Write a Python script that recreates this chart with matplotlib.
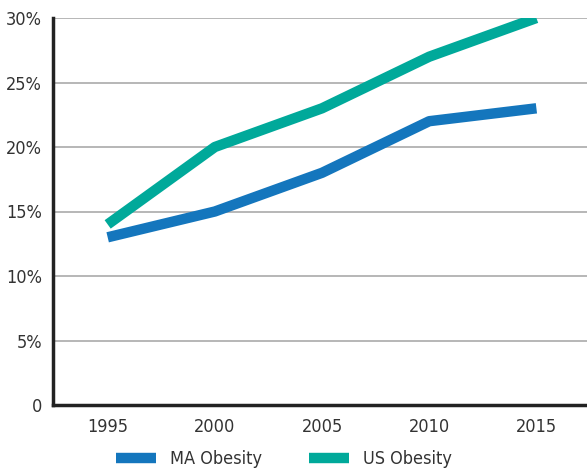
import matplotlib.pyplot as plt

years = ["1995", "2000", "2005", "2010", "2015"]
ma_obesity = [13, 15, 18, 22, 23]
us_obesity = [14, 20, 23, 27, 30]
y_ticks = [0, 5, 10, 15, 20, 25, 30]
y_labels = ["0", "5%", "10%", "15%", "20%", "25%", "30%"]

plt.rcParams['font.family'] = ['DejaVu Sans']
plt.rcParams['font.stretch'] = 'condensed'

fig = plt.figure(figsize=(5.87, 4.70), dpi=100)
ax = fig.add_axes([53 / 587, 65 / 470, 537 / 587, 387 / 470])

x = range(len(years))
ax.plot(x, ma_obesity, color="#1476bd", lw=7.5, solid_capstyle="butt", label="MA Obesity", zorder=3)
ax.plot(x, us_obesity, color="#00a99a", lw=7.5, solid_capstyle="butt", label="US Obesity", zorder=3)

ax.set_xlim(-0.51, 4.5)
ax.set_ylim(0, 30)
ax.set_xticks(list(x))
ax.set_xticklabels(years)
ax.set_yticks(y_ticks)
ax.set_yticklabels(y_labels)
ax.tick_params(axis="both", length=0, labelsize=13, colors="#333333")
ax.tick_params(axis="x", pad=9)
ax.tick_params(axis="y", pad=8)
ax.grid(axis="y", color="#aaaaaa", lw=1.2)
ax.set_axisbelow(True)

for s in ["top", "right"]:
    ax.spines[s].set_visible(False)
for s in ["left", "bottom"]:
    ax.spines[s].set_linewidth(2.5)
    ax.spines[s].set_color("#222222")
    ax.spines[s].set_zorder(4)

leg = fig.legend(*ax.get_legend_handles_labels(), loc="center", bbox_to_anchor=(284 / 587, 11 / 470),
                 ncol=2, frameon=False, fontsize=13, handlelength=2.2, columnspacing=2.6,
                 handletextpad=0.8, borderpad=0)
for t in leg.get_texts():
    t.set_color("#333333")

fig.savefig("out.png", dpi=100)
